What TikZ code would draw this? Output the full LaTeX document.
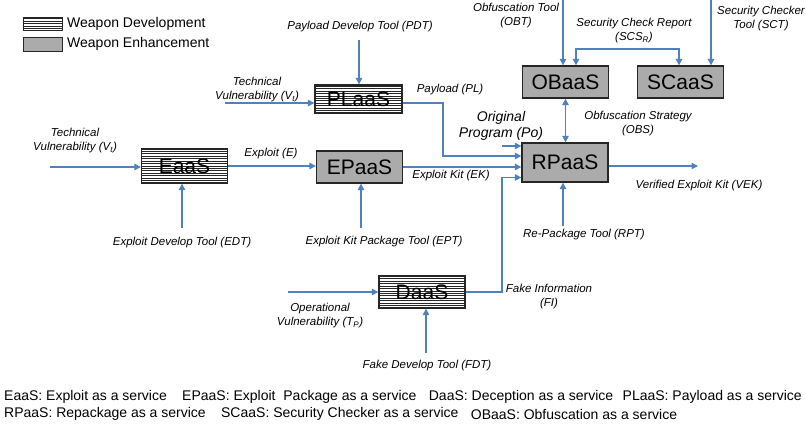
\documentclass[tikz,border=0pt]{standalone}
\usepackage{fontspec}
\setmainfont{Liberation Sans}
\usetikzlibrary{arrows.meta}
\definecolor{lnblue}{HTML}{4F81BD}
\definecolor{boxgrey}{HTML}{ABABAB}
\tikzset{
  conn/.style={draw=lnblue,line width=1.1pt,-{Triangle[length=6.5pt,width=6.5pt]}},
  biconn/.style={draw=lnblue,line width=1.1pt,{Triangle[length=6.5pt,width=6.5pt]}-{Triangle[length=6.5pt,width=6.5pt]}},
  svc/.style={draw=black!85,line width=1.3pt,minimum width=86pt,minimum height=32pt,inner sep=0pt,font=\fontsize{21}{21}\selectfont},
  greybox/.style={fill=boxgrey},
  stripes/.style={fill=white,path picture={
      \foreach \k in {1,...,18}{
        \draw[black!85,line width=0.55pt] ([yshift=\k*2.45pt]path picture bounding box.south west) -- ([yshift=\k*2.45pt]path picture bounding box.south east);
      }}},
  lbl/.style={font=\fontsize{11.5}{14}\selectfont\itshape,align=center,inner sep=0pt},
  foot/.style={font=\fontsize{14}{17}\selectfont,anchor=west,inner sep=0pt},
  legtxt/.style={font=\fontsize{14}{16}\selectfont,anchor=west,inner sep=0pt},
}
\begin{document}
\begin{tikzpicture}[x=1pt,y=-1pt]
\useasboundingbox[fill=white] (0,0) rectangle (806,430);

% legend
\node[draw=black!85,line width=1pt,stripes,minimum width=39pt,minimum height=13pt,inner sep=0pt] (legdev) at (42.5,24.5) {};
\node[draw=black!85,line width=1pt,greybox,minimum width=39pt,minimum height=14pt,inner sep=0pt] (legenh) at (42.5,45) {};
\node[legtxt] (legdevt) at (67,24) {Weapon Development};
\node[legtxt] (legenht) at (67,44) {Weapon Enhancement};

% service boxes
\node[svc,stripes,minimum width=87pt,minimum height=28pt] (PL) at (358.5,99) {PLaaS};
\node[svc,stripes,minimum height=34pt] (E) at (184.5,166) {EaaS};
\node[svc,greybox] (EP) at (359.5,167) {EPaaS};
\node[svc,greybox,minimum height=39pt] (RP) at (565,162.5) {RPaaS};
\node[svc,greybox] (OB) at (565.5,82) {OBaaS};
\node[svc,greybox] (SC) at (680.5,82) {SCaaS};
\node[svc,stripes] (D) at (422,292) {DaaS};

% free ends
\coordinate (pdt) at (359,40);
\coordinate (vt1) at (225,103);
\coordinate (plb) at (443,156);
\coordinate (po) at (502,146);
\coordinate (fi) at (502,177.5);
\coordinate (rpt) at (563,226);
\coordinate (vek) at (698,166);
\coordinate (obt) at (563,0);
\coordinate (scsl) at (576,49);
\coordinate (scsr) at (679,49);
\coordinate (sct) at (711,0);
\coordinate (vt2) at (50,167);
\coordinate (edt) at (182,228);
\coordinate (ept) at (361,228);
\coordinate (op) at (288,292);
\coordinate (fdt) at (426,353);

% connectors
\draw[conn] (pdt) -- (pdt |- PL.north);
\draw[conn] (vt1) -- (vt1 -| PL.west);
\draw[conn] ([yshift=-4pt]PL.east) -| (plb) -- (plb -| RP.west);
\draw[conn] (po) -- (po -| RP.west);
\draw[conn] (EP.east) -- (EP.east -| RP.west);
\draw[conn] (D.east) -| (fi) -- (fi -| RP.west);
\draw[conn] (rpt) -- (rpt |- RP.south);
\draw[conn] (RP.east |- vek) -- (vek);
\draw[biconn] (OB.south) -- (OB.south |- RP.north);
\draw[conn] (obt) -- (obt |- OB.north);
\draw[biconn] (scsl |- OB.north) -- (scsl) -- (scsr) -- (scsr |- SC.north);
\draw[conn] (sct) -- (sct |- SC.north);
\draw[conn] (vt2) -- (vt2 -| E.west);
\draw[conn] (E.east) -- (E.east -| EP.west);
\draw[conn] (edt) -- (edt |- E.south);
\draw[conn] (ept) -- (ept |- EP.south);
\draw[conn] (op) -- (op -| D.west);
\draw[conn] (fdt) -- (fdt |- D.south);

% labels
\node[lbl] (lpdt) at (360,27) {Payload Develop Tool (PDT)};
\node[lbl] (lvt1) at (257,90) {Technical\\Vulnerability (V\textsubscript{t})};
\node[lbl] (lpl) at (450,90) {Payload (PL)};
\node[lbl,font=\fontsize{14}{16}\selectfont\itshape] (lpo) at (501,126) {Original\\Program (Po)};
\node[lbl] (lek) at (451,176) {Exploit Kit (EK)};
\node[lbl] (lobs) at (638,124) {Obfuscation Strategy\\(OBS)};
\node[lbl] (lvek) at (699,186) {Verified Exploit Kit (VEK)};
\node[lbl] (lrpt) at (584,235) {Re-Package Tool (RPT)};
\node[lbl] (lobt) at (516,16) {Obfuscation Tool\\(OBT)};
\node[lbl] (lscs) at (634,31) {Security Check Report\\(SCS\textsubscript{R})};
\node[lbl] (lsct) at (761,18.5) {Security Checker\\Tool (SCT)};
\node[lbl] (lvt2) at (75,141) {Technical\\Vulnerability (V\textsubscript{t})};
\node[lbl] (le) at (271,154) {Exploit (E)};
\node[lbl] (ledt) at (182,243) {Exploit Develop Tool (EDT)};
\node[lbl] (lept) at (384,242) {Exploit Kit Package Tool (EPT)};
\node[lbl] (lop) at (320,316) {Operational\\Vulnerability (T\textsubscript{P})};
\node[lbl] (lfi) at (549,296.5) {Fake Information\\(FI)};
\node[lbl] (lfdt) at (427,366) {Fake Develop Tool (FDT)};

% footer
\node[foot] (f1) at (4,397) {EaaS: Exploit as a service};
\node[foot] (f2) at ([xshift=15pt]f1.east) {EPaaS: Exploit\ \ Package as a service};
\node[foot] (f3) at ([xshift=12pt]f2.east) {DaaS: Deception as a service};
\node[foot] (f4) at ([xshift=9pt]f3.east) {PLaaS: Payload as a service};
\node[foot] (f5) at (4,414) {RPaaS: Repackage as a service};
\node[foot] (f6) at ([xshift=15pt]f5.east) {SCaaS: Security Checker as a service};
\node[foot] (f7) at ([xshift=12pt]f6.east) {OBaaS: Obfuscation as a service};
\end{tikzpicture}
\end{document}
